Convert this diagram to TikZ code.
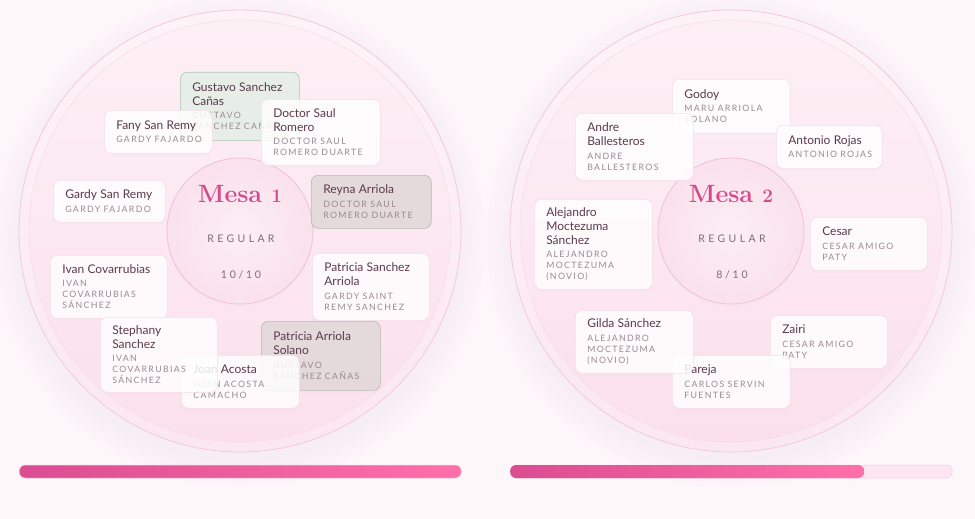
\documentclass[tikz,border=0pt]{standalone}
\usepackage{fontspec}
\newfontfamily\namefont{Lato}
\newfontfamily\capsfont[LetterSpace=15, WordSpace=1.2]{Lato}
\newfontfamily\kindfont[LetterSpace=32]{Lato}
\newfontfamily\seatfont[LetterSpace=26]{Lato}
\usetikzlibrary{shadows, positioning}
\definecolor{bgpink}{HTML}{FEF7FA}
\definecolor{ringtop}{HTML}{FDF3F7}
\definecolor{ringbot}{HTML}{FBE7F0}
\definecolor{ringline}{HTML}{F4CADB}
\definecolor{platetop}{HTML}{FDF0F5}
\definecolor{platebot}{HTML}{FBE0EC}
\definecolor{plateline}{HTML}{F9DDE9}
\definecolor{hubin}{HTML}{FCEEF4}
\definecolor{hubout}{HTML}{FAE1EC}
\definecolor{hubline}{HTML}{EEBED2}
\definecolor{halo}{HTML}{E9CAD7}
\definecolor{mesac}{HTML}{D44A8C}
\definecolor{kindc}{HTML}{7E6C76}
\definecolor{namec}{HTML}{5B3A4B}
\definecolor{subc}{HTML}{9A8A93}
\definecolor{cardline}{HTML}{F4DEE8}
\definecolor{greenf}{HTML}{E5EFE7}
\definecolor{greenl}{HTML}{A9C8AF}
\definecolor{grayf}{HTML}{E2D8D9}
\definecolor{grayl}{HTML}{B5BBB3}
\definecolor{barl}{HTML}{DB4D91}
\definecolor{barr}{HTML}{FF6FAA}
\definecolor{trackf}{HTML}{FCE6F0}
\definecolor{trackl}{HTML}{F6C8DB}
\newcommand{\guest}[2]{\hyphenpenalty=10000\exhyphenpenalty=10000%
    {\color{namec}\namefont\fontsize{12}{14}\selectfont #1\par}\vspace{2.5pt}%
    {\color{subc}\capsfont\fontsize{8.8}{11}\selectfont #2\par}}
% old-style looking table number
\newcommand{\tabno}[1]{{\fontsize{19}{20}\selectfont #1}}
\tikzset{%
    tablering/.style={circle, minimum size=442pt, draw=ringline, line width=0.8pt, top color=ringtop, bottom color=ringbot},
    plate/.style={circle, minimum size=422pt, draw=plateline, line width=0.6pt, top color=platetop, bottom color=platebot},
    hub/.style={circle, minimum size=146pt, draw=hubline, line width=0.7pt, inner color=hubin, outer color=hubout,
        drop shadow={shadow xshift=0pt, shadow yshift=-3pt, opacity=0.06, fill=halo}},
    card/.style 2 args={draw=cardline, line width=0.6pt, fill=white, fill opacity=0.84, text opacity=1,
        rounded corners=7pt, anchor=north west, text width=#1, minimum height=#2, inner xsep=12pt, inner ysep=0pt, align=left,
        drop shadow={shadow xshift=0pt, shadow yshift=-2.5pt, opacity=0.06, fill=halo}},
    green/.style={fill=greenf, draw=greenl, fill opacity=0.9},
    grey/.style={fill=grayf, draw=grayl, fill opacity=0.88},
    mesa/.style={text=mesac, font=\fontsize{25}{30}\selectfont\bfseries},
    kind/.style={text=kindc, font=\kindfont\fontsize{10.5}{12}\selectfont},
    seats/.style={text=kindc, font=\seatfont\fontsize{10.5}{12}\selectfont},
    track/.style={rectangle, rounded corners=6pt, minimum height=13pt, inner sep=0pt, anchor=west},
}

\begin{document}
\begin{tikzpicture}[x=1pt, y=-1pt]
    \useasboundingbox (0,0) rectangle (975,519);
    \fill[bgpink] (0,0) rectangle (975,519);
    % soft halo under both tables
    \foreach \cx in {240,731}{
        \foreach \r in {224,228,...,248}
            \fill[halo, opacity=0.025] (\cx,240) circle (\r);
    }
    \node[tablering] (t1) at (240,231) {};
    \node[tablering] (t2) at (731,231) {};
    \node[plate] (p1) at (240,231) {};
    \node[plate] (p2) at (731,231) {};
    \node[hub] (h1) at (240,231) {};
    \node[hub] (h2) at (731,231) {};

    % Mesa 1
    \node[mesa] (m1) at (240,194) {Mesa \tabno{1}};
    \node[kind] (k1) at (241,239) {REGULAR};
    \node[seats] (s1) at (241,275) {10/10};
    \node[card={95pt}{68pt}, green] (gsc) at (180,72) {\guest{Gustavo~Sanchez\\Cañas}{GUSTAVO\\SANCHEZ~CAÑAS}};
    \node[card={84pt}{43pt}] (fsr) at (104,110) {\guest{Fany~San~Remy}{GARDY~FAJARDO}};
    \node[card={95pt}{66pt}] (dsr) at (261,99) {\guest{Doctor~Saul\\Romero}{DOCTOR~SAUL\\ROMERO~DUARTE}};
    \node[card={88pt}{42pt}] (gsr) at (53,180) {\guest{Gardy~San~Remy}{GARDY~FAJARDO}};
    \node[card={96pt}{53pt}, grey] (rya) at (311,175) {\guest{Reyna~Arriola}{DOCTOR~SAUL\\ROMERO~DUARTE}};
    \node[card={93pt}{63pt}] (ivc) at (50,255) {\guest{Ivan~Covarrubias}{IVAN\\COVARRUBIAS\\SÁNCHEZ}};
    \node[card={93pt}{67pt}] (psa) at (312,253) {\guest{Patricia~Sanchez\\Arriola}{GARDY~SAINT\\REMY~SANCHEZ}};
    \node[card={95pt}{69pt}, grey] (pas) at (261,321) {\guest{Patricia~Arriola\\Solano}{GUSTAVO\\SANCHEZ~CAÑAS}};
    \node[card={94pt}{53pt}] (jac) at (181,355) {\guest{Joan~Acosta}{JOAN~ACOSTA\\CAMACHO}};
    \node[card={93pt}{75pt}] (sts) at (100,317) {\guest{Stephany\\Sanchez}{IVAN\\COVARRUBIAS\\SÁNCHEZ}};

    % Mesa 2
    \node[mesa] (m2) at (731,194) {Mesa \tabno{2}};
    \node[kind] (k2) at (732,239) {REGULAR};
    \node[seats] (s2) at (732,275) {8/10};
    \node[card={94pt}{54pt}] (god) at (672,79) {\guest{Godoy}{MARU~ARRIOLA\\SOLANO}};
    \node[card={94pt}{67pt}] (anb) at (575,113) {\guest{Andre\\Ballesteros}{ANDRE\\BALLESTEROS}};
    \node[card={82pt}{43pt}] (anr) at (776,125) {\guest{Antonio~Rojas}{ANTONIO~ROJAS}};
    \node[card={94pt}{90pt}] (ams) at (534,199) {\guest{Alejandro\\Moctezuma\\Sánchez}{ALEJANDRO\\MOCTEZUMA\\(NOVIO)}};
    \node[card={93pt}{53pt}] (ces) at (810,217) {\guest{Cesar}{CESAR~AMIGO\\PATY}};
    \node[card={93pt}{53pt}] (zai) at (770,315) {\guest{Zairi}{CESAR~AMIGO\\PATY}};
    \node[card={94pt}{53pt}] (par) at (672,355) {\guest{Pareja}{CARLOS~SERVIN\\FUENTES}};
    \node[card={94pt}{63pt}] (gil) at (575,310) {\guest{Gilda~Sánchez}{ALEJANDRO\\MOCTEZUMA\\(NOVIO)}};

    % progress bars
    \node[track, minimum width=442pt, draw=trackl, line width=0.5pt, left color=barl, right color=barr] (b1) at (19,471.5) {};
    \node[track, minimum width=442pt, draw=trackl, line width=0.5pt, fill=trackf] (b2) at (510,471.5) {};
    \node[track, minimum width=354pt, left color=barl, right color=barr] (f2) at (b2.west) {};
\end{tikzpicture}
\end{document}
